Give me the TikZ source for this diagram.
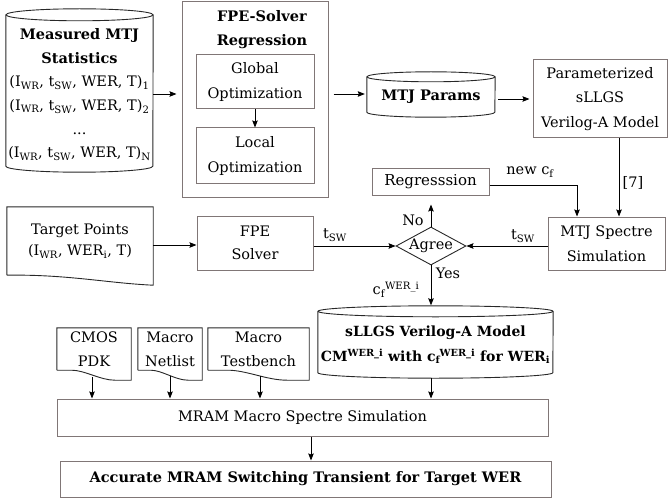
\documentclass[tikz,border=0pt]{standalone}
\usepackage{fontspec}
\setmainfont{DejaVu Serif}
\usetikzlibrary{arrows.meta,shapes.geometric,calc}
\definecolor{boxgray}{RGB}{128,118,118}
\definecolor{docline}{RGB}{40,40,40}
\begin{document}
\begin{tikzpicture}[x=1pt,y=-1pt,
  every node/.style={font=\fontsize{14.5}{24.5}\selectfont, align=center, inner sep=0pt},
  box/.style={draw=boxgray, line width=1pt, rectangle},
  docshape/.style={draw=docline, line width=0.9pt},
  cylline/.style={draw=docline, line width=0.9pt},
  arr/.style={draw=black, line width=0.8pt, -{Stealth[length=7pt,width=5.5pt,inset=1pt]}}
]
\useasboundingbox (0,0) rectangle (669,500);

% ---------- Measured MTJ Statistics cylinder ----------
\node[minimum width=147pt, minimum height=157pt,
      font=\fontsize{14.5}{23.6}\selectfont] (meas) at (79.5,94.5)
  {\textbf{Measured MTJ}\\\textbf{Statistics}\\
   (I\textsubscript{WR}, t\textsubscript{SW}, WER, T)\textsubscript{1}\\
   (I\textsubscript{WR}, t\textsubscript{SW}, WER, T)\textsubscript{2}\\
   ...\\
   (I\textsubscript{WR}, t\textsubscript{SW}, WER, T)\textsubscript{N}};
\draw[cylline] ([yshift=1pt]meas.north) ellipse [x radius=73.5pt, y radius=6pt];
\draw[cylline] ([yshift=1pt]meas.north west) -- ([yshift=7pt]meas.south west)
  arc [start angle=180, end angle=360, x radius=73.5pt, y radius=6pt] -- ([yshift=1pt]meas.north east);

% ---------- FPE-Solver Regression ----------
\node[box, minimum width=146pt, minimum height=195pt] (fpe) at (255,99.5) {};
\node[font=\fontsize{14.5}{24}\selectfont] (fpetitle) at (262,30) {\textbf{FPE-Solver}\\\textbf{Regression}};
\node[box, minimum width=118pt, minimum height=54pt, font=\fontsize{14.5}{25}\selectfont] (glob) at (255,82) {Global\\Optimization};
\node[box, minimum width=118pt, minimum height=55pt, font=\fontsize{14.5}{25}\selectfont] (loc) at (255,155.5) {Local\\Optimization};
\draw[arr] (glob.south) -- (loc.north);

% ---------- MTJ Params cylinder ----------
\node[minimum width=128pt, minimum height=40pt] (params) at (431,97) {\textbf{MTJ Params}};
\draw[cylline] (params.north) ellipse [x radius=64pt, y radius=5pt];
\draw[cylline] (params.north west) -- ([yshift=5pt]params.south west)
  arc [start angle=180, end angle=360, x radius=64pt, y radius=5pt] -- (params.north east);

% ---------- Parameterized model ----------
\node[box, minimum width=134pt, minimum height=78pt] (parambox) at (600,99)
  {Parameterized\\sLLGS\\Verilog-A Model};

% ---------- Regression / Spectre / Agree ----------
\node[box, minimum width=117pt, minimum height=27pt, font=\fontsize{15}{24.5}\selectfont] (reg) at (430.5,181.5) {Regresssion};
\node[box, minimum width=117pt, minimum height=53pt, font=\fontsize{14.5}{25}\selectfont] (spectre) at (606.5,243.5) {MTJ Spectre\\Simulation};
\node[diamond, draw=docline, line width=0.9pt, aspect=1.84, minimum width=70pt, minimum height=38pt] (agree) at (431,246) {Agree};

% ---------- Target points / FPE solver ----------
\node[minimum width=146pt, minimum height=68pt, font=\fontsize{14.5}{21}\selectfont] (target) at (80,241)
  {Target Points\\(I\textsubscript{WR}, WER\textsubscript{i}, T)};
\draw[docshape] (target.south west) -- (target.north west) -- (target.north east)
  -- ([yshift=-10pt]target.south east)
  .. controls ([xshift=-45pt,yshift=-8pt]target.south east) and ([xshift=60pt,yshift=1pt]target.south west) .. (target.south west);
\node[box, minimum width=116pt, minimum height=54pt, font=\fontsize{14.5}{23}\selectfont] (fpesolv) at (255,243) {FPE\\Solver};

% ---------- sLLGS model cylinder ----------
\node[minimum width=235pt, minimum height=66.5pt, font=\fontsize{14}{25}\selectfont] (sllgs) at (435.5,344.75)
  {\textbf{sLLGS Verilog-A Model}\\
   \textbf{CM\textsuperscript{WER\_i} with c\textsubscript{f}\kern-0.05em\textsuperscript{WER\_i} for WER\textsubscript{i}}};
\draw[cylline] (sllgs.north) ellipse [x radius=117.5pt, y radius=5.5pt];
\draw[cylline] (sllgs.north west) -- ([yshift=5.5pt]sllgs.south west)
  arc [start angle=180, end angle=360, x radius=117.5pt, y radius=5.5pt] -- (sllgs.north east);

% ---------- bottom documents ----------
\node[minimum width=74pt, minimum height=42pt, font=\fontsize{14.5}{24}\selectfont] (pdk) at (94,349) {CMOS\\PDK};
\node[minimum width=64pt, minimum height=42pt, font=\fontsize{14.5}{24}\selectfont] (netlist) at (170,349) {Macro\\Netlist};
\node[minimum width=101pt, minimum height=42pt, font=\fontsize{14.5}{24}\selectfont] (bench) at (258.5,349) {Macro\\Testbench};
\foreach \n/\w in {pdk/74, netlist/64, bench/101}{
  \draw[docshape] (\n.south west) -- (\n.north west) -- (\n.north east)
    -- ([yshift=-10pt]\n.south east) -- ([xshift={-0.22*\w*1pt},yshift=-10pt]\n.south east)
    .. controls ([xshift={-0.42*\w*1pt},yshift=-10pt]\n.south east)
           and ([xshift={0.38*\w*1pt}]\n.south west) .. ([xshift={0.2*\w*1pt}]\n.south west)
    -- (\n.south west);
}

\node[box, minimum width=491pt, minimum height=37pt] (mram) at (302.5,417.5) {MRAM Macro Spectre Simulation};
\node[box, minimum width=491pt, minimum height=36pt] (acc) at (305.5,479) {\textbf{Accurate MRAM Switching Transient for Target WER}};

% ---------- connectors ----------
\draw[arr, shorten >=5pt] (meas.east |- 0,94) coordinate (measout) -- (measout -| fpe.west);
\draw[arr, shorten <=5pt, shorten >=2pt] (fpe.east |- 0,94) coordinate (fpeout) -- (fpeout -| params.west);
\draw[arr, shorten <=3pt, shorten >=3pt] (params.east |- 0,99) coordinate (parout) -- (parout -| parambox.west);
\draw[arr] (parambox.south -| 619,0) -- (spectre.north -| 619,0);
\draw[arr] (reg.east |- 0,185) coordinate (regout) -| (spectre.north -| 577,0);
\draw[arr] (spectre.west |- agree.east) -- (agree.east);
\draw[arr] (target.east |- 0,245) coordinate (tgtout) -- (tgtout -| fpesolv.west);
\draw[arr] (fpesolv.east |- agree.west) -- (agree.west);
\draw[arr, shorten >=9pt] (agree.north) -- (agree.north |- reg.south);
\draw[arr, shorten >=6pt] (agree.south) -- (agree.south |- sllgs.north);
\draw[arr, shorten <=7pt] (pdk.south -| 92,0) -- (mram.north -| 92,0);
\draw[arr, shorten <=6pt] (netlist.south -| 170,0) -- (mram.north -| 170,0);
\draw[arr, shorten <=6pt] (bench.south -| 260,0) -- (mram.north -| 260,0);
\draw[arr] (sllgs.south -| agree.south) -- (mram.north -| agree.south);
\draw[arr] (mram.south -| 311,0) -- (acc.north -| 311,0);

% ---------- labels ----------
\node (lnewcf) at (530,172) {new c\textsubscript{f}};
\node (lref) at (633,183) {[7]};
\node (ltsw1) at (523,236) {t\textsubscript{SW}};
\node (ltsw2) at (335,235) {t\textsubscript{SW}};
\node (lno) at (413,220) {No};
\node (lyes) at (448,273) {Yes};
\node (lcf) at (396,290) {c\textsubscript{f}\textsuperscript{WER\_i}};
\end{tikzpicture}
\end{document}
